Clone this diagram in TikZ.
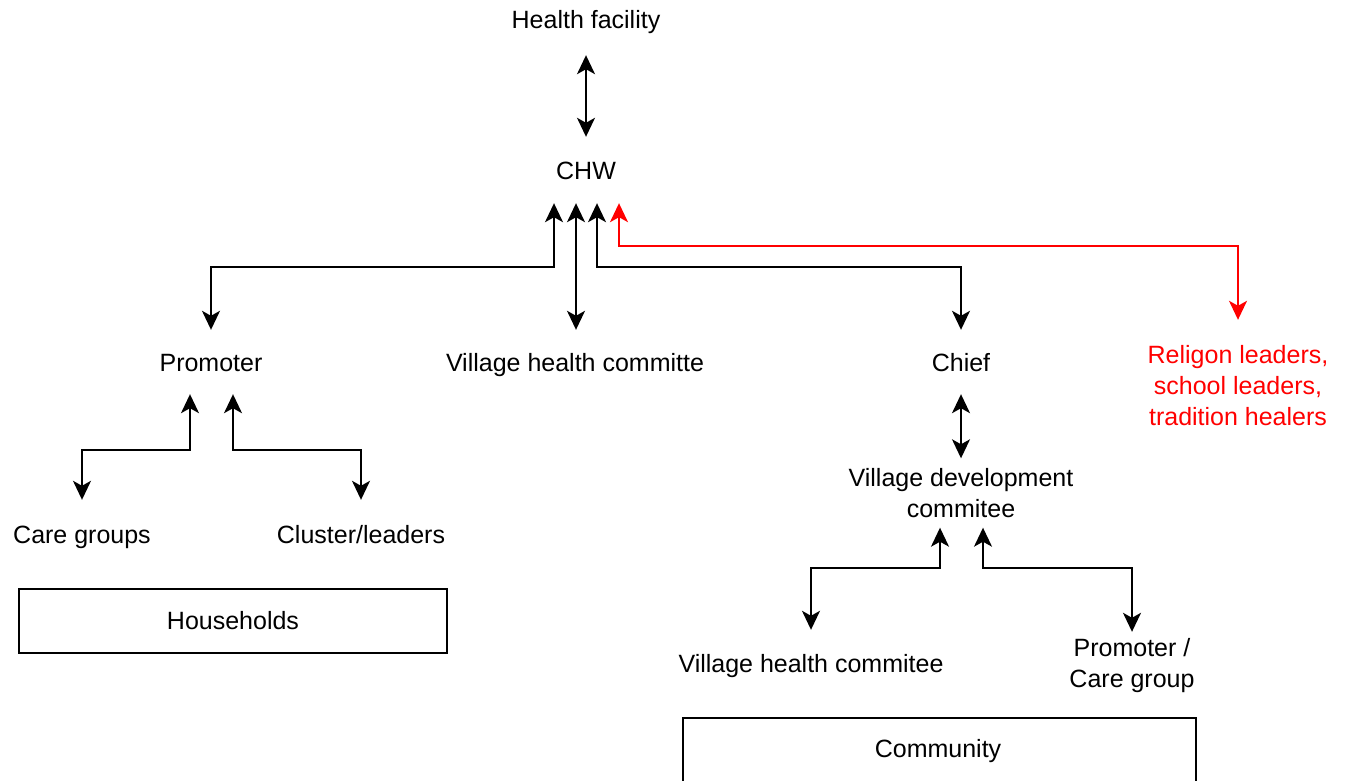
\documentclass[tikz,border=0pt]{standalone}
\usepackage{fontspec}
\setmainfont{Liberation Sans}
\usetikzlibrary{arrows.meta}
\begin{document}
\begin{tikzpicture}[x=1pt,y=-1pt,
  >={Stealth[length=19pt,width=18pt,inset=5pt]},
  lbl/.style={inner sep=0pt, align=center, font=\fontsize{25}{31}\selectfont},
  onelbl/.style={lbl, text height=21pt, text depth=3pt},
  redlbl/.style={lbl, text=red},
  framebox/.style={draw, line width=1.8pt, inner sep=0pt, font=\fontsize{25}{31}\selectfont},
  link/.style={line width=1.8pt, <->},
  redlink/.style={link, draw=red}
]
\useasboundingbox[fill=white] (0,0) rectangle (1346,781);

% upper hierarchy
\node[onelbl, minimum height=70pt] (hf) at (586,20) {Health facility};
\node[onelbl, minimum height=66pt] (chw) at (586,170) {CHW};
\node[onelbl, minimum height=64pt] (prom) at (211,362) {Promoter};
\node[onelbl, minimum height=64pt] (vhc) at (575,362) {Village health committe};
\node[onelbl, minimum height=64pt] (chief) at (961,362) {Chief};
\node[redlbl, minimum height=132pt] (rel) at (1238,386) {Religon leaders,\\school leaders,\\tradition healers};

% household side
\node[onelbl, minimum height=68pt] (care) at (82,534) {Care groups};
\node[onelbl, minimum height=68pt] (clus) at (361,534) {Cluster/leaders};
\node[framebox, minimum width=428pt, minimum height=64pt] (house) at (233,621) {Households};

% community side
\node[lbl, minimum height=69pt] (vdc) at (961,493) {Village development\\commitee};
\node[onelbl, minimum height=66pt] (vhcm) at (811,663) {Village health commitee};
\node[lbl, minimum height=68pt] (pcg) at (1132,666) {Promoter /\\Care group};
\node[framebox, anchor=north, minimum width=513pt, minimum height=90pt] (comm) at (939.5,717) {};
\node[onelbl] (commtext) at (938,748) {Community};

% connectors
\draw[link] (hf.south) -- (chw.north);
\draw[link] ([xshift=-32pt]chw.south) -- ++(0,64) -| (prom.north);
\draw[link] ([xshift=-10pt]chw.south) -- ([xshift=-10pt]chw.south |- vhc.north);
\draw[link] ([xshift=11pt]chw.south) -- ++(0,64) -| (chief.north);
\draw[redlink] ([xshift=33pt]chw.south) -- ++(0,43) -| (rel.north);

\draw[link] ([xshift=-21pt]prom.south) -- ++(0,56) -| (care.north);
\draw[link] ([xshift=22pt]prom.south) -- ++(0,56) -| (clus.north);

\draw[link] (chief.south) -- (vdc.north);
\draw[link] ([xshift=-21pt]vdc.south) -- ++(0,40) -| (vhcm.north);
\draw[link] ([xshift=22pt]vdc.south) -- ++(0,40) -| (pcg.north);
\end{tikzpicture}
\end{document}
